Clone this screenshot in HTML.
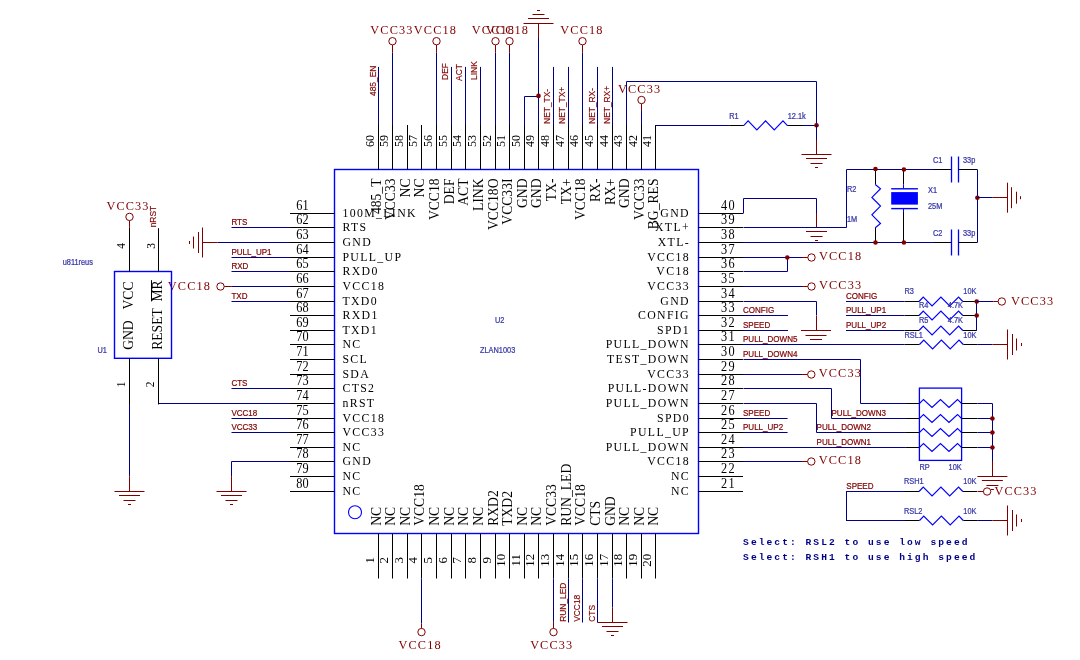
<!DOCTYPE html>
<html><head><meta charset="utf-8"><style>
html,body{margin:0;padding:0;background:#fff;width:1080px;height:660px;overflow:hidden;}
svg{display:block;will-change:transform;}
</style></head><body>
<svg width="1080" height="660" viewBox="0 0 1080 660">
<rect width="1080" height="660" fill="#ffffff"/>
<rect x="334.5" y="169.5" width="364.0" height="364.0" fill="none" stroke="#0000ff" stroke-width="1.4"/>
<circle cx="355" cy="512.3" r="6.5" fill="none" stroke="#0000ff" stroke-width="1.1"/>
<text transform="translate(495,322.8) scale(0.9,1.0)" font-family='"Liberation Sans", sans-serif' font-size="8.2" fill="#3a3aa8" text-anchor="start" stroke="#3a3aa8" stroke-width="0.25">U2</text>
<text transform="translate(480,353) scale(0.9,1.0)" font-family='"Liberation Sans", sans-serif' font-size="8.2" fill="#3a3aa8" text-anchor="start" stroke="#3a3aa8" stroke-width="0.25">ZLAN1003</text>
<line x1="655.5" y1="125" x2="655.5" y2="169.5" stroke="#000000" stroke-width="1.0"/>
<text transform="translate(651,147) rotate(-90) scale(0.905,1.0)" font-family='"Liberation Serif", serif' font-size="13.3" fill="#000000" text-anchor="start">41</text>
<text transform="translate(658.3,178.5) rotate(-90) scale(0.96,1.0)" font-family='"Liberation Serif", serif' font-size="14.2" fill="#000000" text-anchor="end">BG_RES</text>
<line x1="641.5" y1="125" x2="641.5" y2="169.5" stroke="#000000" stroke-width="1.0"/>
<text transform="translate(637,147) rotate(-90) scale(0.905,1.0)" font-family='"Liberation Serif", serif' font-size="13.3" fill="#000000" text-anchor="start">42</text>
<text transform="translate(644.3,178.5) rotate(-90) scale(0.96,1.0)" font-family='"Liberation Serif", serif' font-size="14.2" fill="#000000" text-anchor="end">VCC33</text>
<line x1="626.5" y1="125" x2="626.5" y2="169.5" stroke="#000000" stroke-width="1.0"/>
<text transform="translate(622,147) rotate(-90) scale(0.905,1.0)" font-family='"Liberation Serif", serif' font-size="13.3" fill="#000000" text-anchor="start">43</text>
<text transform="translate(629.3,178.5) rotate(-90) scale(0.96,1.0)" font-family='"Liberation Serif", serif' font-size="14.2" fill="#000000" text-anchor="end">GND</text>
<line x1="612.5" y1="125" x2="612.5" y2="169.5" stroke="#000000" stroke-width="1.0"/>
<text transform="translate(608,147) rotate(-90) scale(0.905,1.0)" font-family='"Liberation Serif", serif' font-size="13.3" fill="#000000" text-anchor="start">44</text>
<text transform="translate(615.3,178.5) rotate(-90) scale(0.96,1.0)" font-family='"Liberation Serif", serif' font-size="14.2" fill="#000000" text-anchor="end">RX+</text>
<line x1="597.5" y1="125" x2="597.5" y2="169.5" stroke="#000000" stroke-width="1.0"/>
<text transform="translate(593,147) rotate(-90) scale(0.905,1.0)" font-family='"Liberation Serif", serif' font-size="13.3" fill="#000000" text-anchor="start">45</text>
<text transform="translate(600.3,178.5) rotate(-90) scale(0.96,1.0)" font-family='"Liberation Serif", serif' font-size="14.2" fill="#000000" text-anchor="end">RX-</text>
<line x1="582.5" y1="125" x2="582.5" y2="169.5" stroke="#000000" stroke-width="1.0"/>
<text transform="translate(578,147) rotate(-90) scale(0.905,1.0)" font-family='"Liberation Serif", serif' font-size="13.3" fill="#000000" text-anchor="start">46</text>
<text transform="translate(585.3,178.5) rotate(-90) scale(0.96,1.0)" font-family='"Liberation Serif", serif' font-size="14.2" fill="#000000" text-anchor="end">VCC18</text>
<line x1="568.5" y1="125" x2="568.5" y2="169.5" stroke="#000000" stroke-width="1.0"/>
<text transform="translate(564,147) rotate(-90) scale(0.905,1.0)" font-family='"Liberation Serif", serif' font-size="13.3" fill="#000000" text-anchor="start">47</text>
<text transform="translate(571.3,178.5) rotate(-90) scale(0.96,1.0)" font-family='"Liberation Serif", serif' font-size="14.2" fill="#000000" text-anchor="end">TX+</text>
<line x1="553.5" y1="125" x2="553.5" y2="169.5" stroke="#000000" stroke-width="1.0"/>
<text transform="translate(549,147) rotate(-90) scale(0.905,1.0)" font-family='"Liberation Serif", serif' font-size="13.3" fill="#000000" text-anchor="start">48</text>
<text transform="translate(556.3,178.5) rotate(-90) scale(0.96,1.0)" font-family='"Liberation Serif", serif' font-size="14.2" fill="#000000" text-anchor="end">TX-</text>
<line x1="538.5" y1="125" x2="538.5" y2="169.5" stroke="#000000" stroke-width="1.0"/>
<text transform="translate(534,147) rotate(-90) scale(0.905,1.0)" font-family='"Liberation Serif", serif' font-size="13.3" fill="#000000" text-anchor="start">49</text>
<text transform="translate(541.3,178.5) rotate(-90) scale(0.96,1.0)" font-family='"Liberation Serif", serif' font-size="14.2" fill="#000000" text-anchor="end">GND</text>
<line x1="524.5" y1="125" x2="524.5" y2="169.5" stroke="#000000" stroke-width="1.0"/>
<text transform="translate(520,147) rotate(-90) scale(0.905,1.0)" font-family='"Liberation Serif", serif' font-size="13.3" fill="#000000" text-anchor="start">50</text>
<text transform="translate(527.3,178.5) rotate(-90) scale(0.96,1.0)" font-family='"Liberation Serif", serif' font-size="14.2" fill="#000000" text-anchor="end">GND</text>
<line x1="509.5" y1="125" x2="509.5" y2="169.5" stroke="#000000" stroke-width="1.0"/>
<text transform="translate(505,147) rotate(-90) scale(0.905,1.0)" font-family='"Liberation Serif", serif' font-size="13.3" fill="#000000" text-anchor="start">51</text>
<text transform="translate(512.3,178.5) rotate(-90) scale(0.96,1.0)" font-family='"Liberation Serif", serif' font-size="14.2" fill="#000000" text-anchor="end">VCC33I</text>
<line x1="495.5" y1="125" x2="495.5" y2="169.5" stroke="#000000" stroke-width="1.0"/>
<text transform="translate(491,147) rotate(-90) scale(0.905,1.0)" font-family='"Liberation Serif", serif' font-size="13.3" fill="#000000" text-anchor="start">52</text>
<text transform="translate(498.3,178.5) rotate(-90) scale(0.96,1.0)" font-family='"Liberation Serif", serif' font-size="14.2" fill="#000000" text-anchor="end">VCC18O</text>
<line x1="480.5" y1="125" x2="480.5" y2="169.5" stroke="#000000" stroke-width="1.0"/>
<text transform="translate(476,147) rotate(-90) scale(0.905,1.0)" font-family='"Liberation Serif", serif' font-size="13.3" fill="#000000" text-anchor="start">53</text>
<text transform="translate(483.3,178.5) rotate(-90) scale(0.96,1.0)" font-family='"Liberation Serif", serif' font-size="14.2" fill="#000000" text-anchor="end">LINK</text>
<line x1="465.5" y1="125" x2="465.5" y2="169.5" stroke="#000000" stroke-width="1.0"/>
<text transform="translate(461,147) rotate(-90) scale(0.905,1.0)" font-family='"Liberation Serif", serif' font-size="13.3" fill="#000000" text-anchor="start">54</text>
<text transform="translate(468.3,178.5) rotate(-90) scale(0.96,1.0)" font-family='"Liberation Serif", serif' font-size="14.2" fill="#000000" text-anchor="end">ACT</text>
<line x1="451.5" y1="125" x2="451.5" y2="169.5" stroke="#000000" stroke-width="1.0"/>
<text transform="translate(447,147) rotate(-90) scale(0.905,1.0)" font-family='"Liberation Serif", serif' font-size="13.3" fill="#000000" text-anchor="start">55</text>
<text transform="translate(454.3,178.5) rotate(-90) scale(0.96,1.0)" font-family='"Liberation Serif", serif' font-size="14.2" fill="#000000" text-anchor="end">DEF</text>
<line x1="436.5" y1="125" x2="436.5" y2="169.5" stroke="#000000" stroke-width="1.0"/>
<text transform="translate(432,147) rotate(-90) scale(0.905,1.0)" font-family='"Liberation Serif", serif' font-size="13.3" fill="#000000" text-anchor="start">56</text>
<text transform="translate(439.3,178.5) rotate(-90) scale(0.96,1.0)" font-family='"Liberation Serif", serif' font-size="14.2" fill="#000000" text-anchor="end">VCC18</text>
<line x1="421.5" y1="125" x2="421.5" y2="169.5" stroke="#000000" stroke-width="1.0"/>
<text transform="translate(417,147) rotate(-90) scale(0.905,1.0)" font-family='"Liberation Serif", serif' font-size="13.3" fill="#000000" text-anchor="start">57</text>
<text transform="translate(424.3,178.5) rotate(-90) scale(0.96,1.0)" font-family='"Liberation Serif", serif' font-size="14.2" fill="#000000" text-anchor="end">NC</text>
<line x1="407.5" y1="125" x2="407.5" y2="169.5" stroke="#000000" stroke-width="1.0"/>
<text transform="translate(403,147) rotate(-90) scale(0.905,1.0)" font-family='"Liberation Serif", serif' font-size="13.3" fill="#000000" text-anchor="start">58</text>
<text transform="translate(410.3,178.5) rotate(-90) scale(0.96,1.0)" font-family='"Liberation Serif", serif' font-size="14.2" fill="#000000" text-anchor="end">NC</text>
<line x1="392.5" y1="125" x2="392.5" y2="169.5" stroke="#000000" stroke-width="1.0"/>
<text transform="translate(388,147) rotate(-90) scale(0.905,1.0)" font-family='"Liberation Serif", serif' font-size="13.3" fill="#000000" text-anchor="start">59</text>
<text transform="translate(395.3,178.5) rotate(-90) scale(0.96,1.0)" font-family='"Liberation Serif", serif' font-size="14.2" fill="#000000" text-anchor="end">VCC33</text>
<line x1="378.5" y1="125" x2="378.5" y2="169.5" stroke="#000000" stroke-width="1.0"/>
<text transform="translate(374,147) rotate(-90) scale(0.905,1.0)" font-family='"Liberation Serif", serif' font-size="13.3" fill="#000000" text-anchor="start">60</text>
<text transform="translate(381.3,178.5) rotate(-90) scale(0.96,1.0)" font-family='"Liberation Serif", serif' font-size="14.2" fill="#000000" text-anchor="end">485_T</text>
<line x1="378.5" y1="533.5" x2="378.5" y2="578.5" stroke="#000000" stroke-width="1.0"/>
<text transform="translate(374.2,560.2) rotate(-90) scale(0.97,1.0)" font-family='"Liberation Serif", serif' font-size="13.3" fill="#000000" text-anchor="middle">1</text>
<text transform="translate(381.3,525.8) rotate(-90) scale(0.96,1.0)" font-family='"Liberation Serif", serif' font-size="14.2" fill="#000000" text-anchor="start">NC</text>
<line x1="392.5" y1="533.5" x2="392.5" y2="578.5" stroke="#000000" stroke-width="1.0"/>
<text transform="translate(388.2,560.2) rotate(-90) scale(0.97,1.0)" font-family='"Liberation Serif", serif' font-size="13.3" fill="#000000" text-anchor="middle">2</text>
<text transform="translate(395.3,525.8) rotate(-90) scale(0.96,1.0)" font-family='"Liberation Serif", serif' font-size="14.2" fill="#000000" text-anchor="start">NC</text>
<line x1="407.5" y1="533.5" x2="407.5" y2="578.5" stroke="#000000" stroke-width="1.0"/>
<text transform="translate(403.2,560.2) rotate(-90) scale(0.97,1.0)" font-family='"Liberation Serif", serif' font-size="13.3" fill="#000000" text-anchor="middle">3</text>
<text transform="translate(410.3,525.8) rotate(-90) scale(0.96,1.0)" font-family='"Liberation Serif", serif' font-size="14.2" fill="#000000" text-anchor="start">NC</text>
<line x1="421.5" y1="533.5" x2="421.5" y2="578.5" stroke="#000000" stroke-width="1.0"/>
<text transform="translate(417.2,560.2) rotate(-90) scale(0.97,1.0)" font-family='"Liberation Serif", serif' font-size="13.3" fill="#000000" text-anchor="middle">4</text>
<text transform="translate(424.3,525.8) rotate(-90) scale(0.96,1.0)" font-family='"Liberation Serif", serif' font-size="14.2" fill="#000000" text-anchor="start">VCC18</text>
<line x1="436.5" y1="533.5" x2="436.5" y2="578.5" stroke="#000000" stroke-width="1.0"/>
<text transform="translate(432.2,560.2) rotate(-90) scale(0.97,1.0)" font-family='"Liberation Serif", serif' font-size="13.3" fill="#000000" text-anchor="middle">5</text>
<text transform="translate(439.3,525.8) rotate(-90) scale(0.96,1.0)" font-family='"Liberation Serif", serif' font-size="14.2" fill="#000000" text-anchor="start">NC</text>
<line x1="451.5" y1="533.5" x2="451.5" y2="578.5" stroke="#000000" stroke-width="1.0"/>
<text transform="translate(447.2,560.2) rotate(-90) scale(0.97,1.0)" font-family='"Liberation Serif", serif' font-size="13.3" fill="#000000" text-anchor="middle">6</text>
<text transform="translate(454.3,525.8) rotate(-90) scale(0.96,1.0)" font-family='"Liberation Serif", serif' font-size="14.2" fill="#000000" text-anchor="start">NC</text>
<line x1="465.5" y1="533.5" x2="465.5" y2="578.5" stroke="#000000" stroke-width="1.0"/>
<text transform="translate(461.2,560.2) rotate(-90) scale(0.97,1.0)" font-family='"Liberation Serif", serif' font-size="13.3" fill="#000000" text-anchor="middle">7</text>
<text transform="translate(468.3,525.8) rotate(-90) scale(0.96,1.0)" font-family='"Liberation Serif", serif' font-size="14.2" fill="#000000" text-anchor="start">NC</text>
<line x1="480.5" y1="533.5" x2="480.5" y2="578.5" stroke="#000000" stroke-width="1.0"/>
<text transform="translate(476.2,560.2) rotate(-90) scale(0.97,1.0)" font-family='"Liberation Serif", serif' font-size="13.3" fill="#000000" text-anchor="middle">8</text>
<text transform="translate(483.3,525.8) rotate(-90) scale(0.96,1.0)" font-family='"Liberation Serif", serif' font-size="14.2" fill="#000000" text-anchor="start">NC</text>
<line x1="495.5" y1="533.5" x2="495.5" y2="578.5" stroke="#000000" stroke-width="1.0"/>
<text transform="translate(491.2,560.2) rotate(-90) scale(0.97,1.0)" font-family='"Liberation Serif", serif' font-size="13.3" fill="#000000" text-anchor="middle">9</text>
<text transform="translate(498.3,525.8) rotate(-90) scale(0.96,1.0)" font-family='"Liberation Serif", serif' font-size="14.2" fill="#000000" text-anchor="start">RXD2</text>
<line x1="509.5" y1="533.5" x2="509.5" y2="578.5" stroke="#000000" stroke-width="1.0"/>
<text transform="translate(505.2,560.2) rotate(-90) scale(0.97,1.0)" font-family='"Liberation Serif", serif' font-size="13.3" fill="#000000" text-anchor="middle">10</text>
<text transform="translate(512.3,525.8) rotate(-90) scale(0.96,1.0)" font-family='"Liberation Serif", serif' font-size="14.2" fill="#000000" text-anchor="start">TXD2</text>
<line x1="524.5" y1="533.5" x2="524.5" y2="578.5" stroke="#000000" stroke-width="1.0"/>
<text transform="translate(520.2,560.2) rotate(-90) scale(0.97,1.0)" font-family='"Liberation Serif", serif' font-size="13.3" fill="#000000" text-anchor="middle">11</text>
<text transform="translate(527.3,525.8) rotate(-90) scale(0.96,1.0)" font-family='"Liberation Serif", serif' font-size="14.2" fill="#000000" text-anchor="start">NC</text>
<line x1="538.5" y1="533.5" x2="538.5" y2="578.5" stroke="#000000" stroke-width="1.0"/>
<text transform="translate(534.2,560.2) rotate(-90) scale(0.97,1.0)" font-family='"Liberation Serif", serif' font-size="13.3" fill="#000000" text-anchor="middle">12</text>
<text transform="translate(541.3,525.8) rotate(-90) scale(0.96,1.0)" font-family='"Liberation Serif", serif' font-size="14.2" fill="#000000" text-anchor="start">NC</text>
<line x1="553.5" y1="533.5" x2="553.5" y2="578.5" stroke="#000000" stroke-width="1.0"/>
<text transform="translate(549.2,560.2) rotate(-90) scale(0.97,1.0)" font-family='"Liberation Serif", serif' font-size="13.3" fill="#000000" text-anchor="middle">13</text>
<text transform="translate(556.3,525.8) rotate(-90) scale(0.96,1.0)" font-family='"Liberation Serif", serif' font-size="14.2" fill="#000000" text-anchor="start">VCC33</text>
<line x1="568.5" y1="533.5" x2="568.5" y2="578.5" stroke="#000000" stroke-width="1.0"/>
<text transform="translate(564.2,560.2) rotate(-90) scale(0.97,1.0)" font-family='"Liberation Serif", serif' font-size="13.3" fill="#000000" text-anchor="middle">14</text>
<text transform="translate(571.3,525.8) rotate(-90) scale(0.96,1.0)" font-family='"Liberation Serif", serif' font-size="14.2" fill="#000000" text-anchor="start">RUN_LED</text>
<line x1="582.5" y1="533.5" x2="582.5" y2="578.5" stroke="#000000" stroke-width="1.0"/>
<text transform="translate(578.2,560.2) rotate(-90) scale(0.97,1.0)" font-family='"Liberation Serif", serif' font-size="13.3" fill="#000000" text-anchor="middle">15</text>
<text transform="translate(585.3,525.8) rotate(-90) scale(0.96,1.0)" font-family='"Liberation Serif", serif' font-size="14.2" fill="#000000" text-anchor="start">VCC18</text>
<line x1="597.5" y1="533.5" x2="597.5" y2="578.5" stroke="#000000" stroke-width="1.0"/>
<text transform="translate(593.2,560.2) rotate(-90) scale(0.97,1.0)" font-family='"Liberation Serif", serif' font-size="13.3" fill="#000000" text-anchor="middle">16</text>
<text transform="translate(600.3,525.8) rotate(-90) scale(0.96,1.0)" font-family='"Liberation Serif", serif' font-size="14.2" fill="#000000" text-anchor="start">CTS</text>
<line x1="612.5" y1="533.5" x2="612.5" y2="578.5" stroke="#000000" stroke-width="1.0"/>
<text transform="translate(608.2,560.2) rotate(-90) scale(0.97,1.0)" font-family='"Liberation Serif", serif' font-size="13.3" fill="#000000" text-anchor="middle">17</text>
<text transform="translate(615.3,525.8) rotate(-90) scale(0.96,1.0)" font-family='"Liberation Serif", serif' font-size="14.2" fill="#000000" text-anchor="start">GND</text>
<line x1="626.5" y1="533.5" x2="626.5" y2="578.5" stroke="#000000" stroke-width="1.0"/>
<text transform="translate(622.2,560.2) rotate(-90) scale(0.97,1.0)" font-family='"Liberation Serif", serif' font-size="13.3" fill="#000000" text-anchor="middle">18</text>
<text transform="translate(629.3,525.8) rotate(-90) scale(0.96,1.0)" font-family='"Liberation Serif", serif' font-size="14.2" fill="#000000" text-anchor="start">NC</text>
<line x1="641.5" y1="533.5" x2="641.5" y2="578.5" stroke="#000000" stroke-width="1.0"/>
<text transform="translate(637.2,560.2) rotate(-90) scale(0.97,1.0)" font-family='"Liberation Serif", serif' font-size="13.3" fill="#000000" text-anchor="middle">19</text>
<text transform="translate(644.3,525.8) rotate(-90) scale(0.96,1.0)" font-family='"Liberation Serif", serif' font-size="14.2" fill="#000000" text-anchor="start">NC</text>
<line x1="655.5" y1="533.5" x2="655.5" y2="578.5" stroke="#000000" stroke-width="1.0"/>
<text transform="translate(651.2,560.2) rotate(-90) scale(0.97,1.0)" font-family='"Liberation Serif", serif' font-size="13.3" fill="#000000" text-anchor="middle">20</text>
<text transform="translate(658.3,525.8) rotate(-90) scale(0.96,1.0)" font-family='"Liberation Serif", serif' font-size="14.2" fill="#000000" text-anchor="start">NC</text>
<line x1="290" y1="213.5" x2="334.5" y2="213.5" stroke="#000000" stroke-width="1.0"/>
<text transform="translate(308.6,209.9) scale(0.88,1.0)" font-family='"Liberation Serif", serif' font-size="14" fill="#000000" text-anchor="end">61</text>
<text transform="translate(342.4,216.9) scale(0.888,1.0)" font-family='"Liberation Serif", serif' font-size="13.3" fill="#000000" text-anchor="start" letter-spacing="1.53">100M_LINK</text>
<line x1="290" y1="227.5" x2="334.5" y2="227.5" stroke="#000000" stroke-width="1.0"/>
<text transform="translate(308.6,223.9) scale(0.88,1.0)" font-family='"Liberation Serif", serif' font-size="14" fill="#000000" text-anchor="end">62</text>
<text transform="translate(342.4,230.9) scale(0.888,1.0)" font-family='"Liberation Serif", serif' font-size="13.3" fill="#000000" text-anchor="start" letter-spacing="1.53">RTS</text>
<line x1="290" y1="242.5" x2="334.5" y2="242.5" stroke="#000000" stroke-width="1.0"/>
<text transform="translate(308.6,238.9) scale(0.88,1.0)" font-family='"Liberation Serif", serif' font-size="14" fill="#000000" text-anchor="end">63</text>
<text transform="translate(342.4,245.9) scale(0.888,1.0)" font-family='"Liberation Serif", serif' font-size="13.3" fill="#000000" text-anchor="start" letter-spacing="1.53">GND</text>
<line x1="290" y1="257.5" x2="334.5" y2="257.5" stroke="#000000" stroke-width="1.0"/>
<text transform="translate(308.6,253.9) scale(0.88,1.0)" font-family='"Liberation Serif", serif' font-size="14" fill="#000000" text-anchor="end">64</text>
<text transform="translate(342.4,260.9) scale(0.888,1.0)" font-family='"Liberation Serif", serif' font-size="13.3" fill="#000000" text-anchor="start" letter-spacing="1.53">PULL_UP</text>
<line x1="290" y1="271.5" x2="334.5" y2="271.5" stroke="#000000" stroke-width="1.0"/>
<text transform="translate(308.6,267.9) scale(0.88,1.0)" font-family='"Liberation Serif", serif' font-size="14" fill="#000000" text-anchor="end">65</text>
<text transform="translate(342.4,274.9) scale(0.888,1.0)" font-family='"Liberation Serif", serif' font-size="13.3" fill="#000000" text-anchor="start" letter-spacing="1.53">RXD0</text>
<line x1="290" y1="286.5" x2="334.5" y2="286.5" stroke="#000000" stroke-width="1.0"/>
<text transform="translate(308.6,282.9) scale(0.88,1.0)" font-family='"Liberation Serif", serif' font-size="14" fill="#000000" text-anchor="end">66</text>
<text transform="translate(342.4,289.9) scale(0.888,1.0)" font-family='"Liberation Serif", serif' font-size="13.3" fill="#000000" text-anchor="start" letter-spacing="1.53">VCC18</text>
<line x1="290" y1="301.5" x2="334.5" y2="301.5" stroke="#000000" stroke-width="1.0"/>
<text transform="translate(308.6,297.9) scale(0.88,1.0)" font-family='"Liberation Serif", serif' font-size="14" fill="#000000" text-anchor="end">67</text>
<text transform="translate(342.4,304.9) scale(0.888,1.0)" font-family='"Liberation Serif", serif' font-size="13.3" fill="#000000" text-anchor="start" letter-spacing="1.53">TXD0</text>
<line x1="290" y1="315.5" x2="334.5" y2="315.5" stroke="#000000" stroke-width="1.0"/>
<text transform="translate(308.6,311.9) scale(0.88,1.0)" font-family='"Liberation Serif", serif' font-size="14" fill="#000000" text-anchor="end">68</text>
<text transform="translate(342.4,318.9) scale(0.888,1.0)" font-family='"Liberation Serif", serif' font-size="13.3" fill="#000000" text-anchor="start" letter-spacing="1.53">RXD1</text>
<line x1="290" y1="330.5" x2="334.5" y2="330.5" stroke="#000000" stroke-width="1.0"/>
<text transform="translate(308.6,326.9) scale(0.88,1.0)" font-family='"Liberation Serif", serif' font-size="14" fill="#000000" text-anchor="end">69</text>
<text transform="translate(342.4,333.9) scale(0.888,1.0)" font-family='"Liberation Serif", serif' font-size="13.3" fill="#000000" text-anchor="start" letter-spacing="1.53">TXD1</text>
<line x1="290" y1="344.5" x2="334.5" y2="344.5" stroke="#000000" stroke-width="1.0"/>
<text transform="translate(308.6,340.9) scale(0.88,1.0)" font-family='"Liberation Serif", serif' font-size="14" fill="#000000" text-anchor="end">70</text>
<text transform="translate(342.4,347.9) scale(0.888,1.0)" font-family='"Liberation Serif", serif' font-size="13.3" fill="#000000" text-anchor="start" letter-spacing="1.53">NC</text>
<line x1="290" y1="359.5" x2="334.5" y2="359.5" stroke="#000000" stroke-width="1.0"/>
<text transform="translate(308.6,355.9) scale(0.88,1.0)" font-family='"Liberation Serif", serif' font-size="14" fill="#000000" text-anchor="end">71</text>
<text transform="translate(342.4,362.9) scale(0.888,1.0)" font-family='"Liberation Serif", serif' font-size="13.3" fill="#000000" text-anchor="start" letter-spacing="1.53">SCL</text>
<line x1="290" y1="374.5" x2="334.5" y2="374.5" stroke="#000000" stroke-width="1.0"/>
<text transform="translate(308.6,370.9) scale(0.88,1.0)" font-family='"Liberation Serif", serif' font-size="14" fill="#000000" text-anchor="end">72</text>
<text transform="translate(342.4,377.9) scale(0.888,1.0)" font-family='"Liberation Serif", serif' font-size="13.3" fill="#000000" text-anchor="start" letter-spacing="1.53">SDA</text>
<line x1="290" y1="388.5" x2="334.5" y2="388.5" stroke="#000000" stroke-width="1.0"/>
<text transform="translate(308.6,384.9) scale(0.88,1.0)" font-family='"Liberation Serif", serif' font-size="14" fill="#000000" text-anchor="end">73</text>
<text transform="translate(342.4,391.9) scale(0.888,1.0)" font-family='"Liberation Serif", serif' font-size="13.3" fill="#000000" text-anchor="start" letter-spacing="1.53">CTS2</text>
<line x1="290" y1="403.5" x2="334.5" y2="403.5" stroke="#000000" stroke-width="1.0"/>
<text transform="translate(308.6,399.9) scale(0.88,1.0)" font-family='"Liberation Serif", serif' font-size="14" fill="#000000" text-anchor="end">74</text>
<text transform="translate(342.4,406.9) scale(0.888,1.0)" font-family='"Liberation Serif", serif' font-size="13.3" fill="#000000" text-anchor="start" letter-spacing="1.53">nRST</text>
<line x1="290" y1="418.5" x2="334.5" y2="418.5" stroke="#000000" stroke-width="1.0"/>
<text transform="translate(308.6,414.9) scale(0.88,1.0)" font-family='"Liberation Serif", serif' font-size="14" fill="#000000" text-anchor="end">75</text>
<text transform="translate(342.4,421.9) scale(0.888,1.0)" font-family='"Liberation Serif", serif' font-size="13.3" fill="#000000" text-anchor="start" letter-spacing="1.53">VCC18</text>
<line x1="290" y1="432.5" x2="334.5" y2="432.5" stroke="#000000" stroke-width="1.0"/>
<text transform="translate(308.6,428.9) scale(0.88,1.0)" font-family='"Liberation Serif", serif' font-size="14" fill="#000000" text-anchor="end">76</text>
<text transform="translate(342.4,435.9) scale(0.888,1.0)" font-family='"Liberation Serif", serif' font-size="13.3" fill="#000000" text-anchor="start" letter-spacing="1.53">VCC33</text>
<line x1="290" y1="447.5" x2="334.5" y2="447.5" stroke="#000000" stroke-width="1.0"/>
<text transform="translate(308.6,443.9) scale(0.88,1.0)" font-family='"Liberation Serif", serif' font-size="14" fill="#000000" text-anchor="end">77</text>
<text transform="translate(342.4,450.9) scale(0.888,1.0)" font-family='"Liberation Serif", serif' font-size="13.3" fill="#000000" text-anchor="start" letter-spacing="1.53">NC</text>
<line x1="290" y1="461.5" x2="334.5" y2="461.5" stroke="#000000" stroke-width="1.0"/>
<text transform="translate(308.6,457.9) scale(0.88,1.0)" font-family='"Liberation Serif", serif' font-size="14" fill="#000000" text-anchor="end">78</text>
<text transform="translate(342.4,464.9) scale(0.888,1.0)" font-family='"Liberation Serif", serif' font-size="13.3" fill="#000000" text-anchor="start" letter-spacing="1.53">GND</text>
<line x1="290" y1="476.5" x2="334.5" y2="476.5" stroke="#000000" stroke-width="1.0"/>
<text transform="translate(308.6,472.9) scale(0.88,1.0)" font-family='"Liberation Serif", serif' font-size="14" fill="#000000" text-anchor="end">79</text>
<text transform="translate(342.4,479.9) scale(0.888,1.0)" font-family='"Liberation Serif", serif' font-size="13.3" fill="#000000" text-anchor="start" letter-spacing="1.53">NC</text>
<line x1="290" y1="491.5" x2="334.5" y2="491.5" stroke="#000000" stroke-width="1.0"/>
<text transform="translate(308.6,487.9) scale(0.88,1.0)" font-family='"Liberation Serif", serif' font-size="14" fill="#000000" text-anchor="end">80</text>
<text transform="translate(342.4,494.9) scale(0.888,1.0)" font-family='"Liberation Serif", serif' font-size="13.3" fill="#000000" text-anchor="start" letter-spacing="1.53">NC</text>
<line x1="698.5" y1="491.5" x2="743" y2="491.5" stroke="#000000" stroke-width="1.0"/>
<text transform="translate(721,488) scale(0.88,1.0)" font-family='"Liberation Serif", serif' font-size="14" fill="#000000" text-anchor="start" letter-spacing="1.6">21</text>
<text transform="translate(690,494.9) scale(0.888,1.0)" font-family='"Liberation Serif", serif' font-size="13.3" fill="#000000" text-anchor="end" letter-spacing="1.53">NC</text>
<line x1="698.5" y1="476.5" x2="743" y2="476.5" stroke="#000000" stroke-width="1.0"/>
<text transform="translate(721,473) scale(0.88,1.0)" font-family='"Liberation Serif", serif' font-size="14" fill="#000000" text-anchor="start" letter-spacing="1.6">22</text>
<text transform="translate(690,479.9) scale(0.888,1.0)" font-family='"Liberation Serif", serif' font-size="13.3" fill="#000000" text-anchor="end" letter-spacing="1.53">NC</text>
<line x1="698.5" y1="461.5" x2="743" y2="461.5" stroke="#000000" stroke-width="1.0"/>
<text transform="translate(721,458) scale(0.88,1.0)" font-family='"Liberation Serif", serif' font-size="14" fill="#000000" text-anchor="start" letter-spacing="1.6">23</text>
<text transform="translate(690,464.9) scale(0.888,1.0)" font-family='"Liberation Serif", serif' font-size="13.3" fill="#000000" text-anchor="end" letter-spacing="1.53">VCC18</text>
<line x1="698.5" y1="447.5" x2="743" y2="447.5" stroke="#000000" stroke-width="1.0"/>
<text transform="translate(721,444) scale(0.88,1.0)" font-family='"Liberation Serif", serif' font-size="14" fill="#000000" text-anchor="start" letter-spacing="1.6">24</text>
<text transform="translate(690,450.9) scale(0.888,1.0)" font-family='"Liberation Serif", serif' font-size="13.3" fill="#000000" text-anchor="end" letter-spacing="1.53">PULL_DOWN</text>
<line x1="698.5" y1="432.5" x2="743" y2="432.5" stroke="#000000" stroke-width="1.0"/>
<text transform="translate(721,429) scale(0.88,1.0)" font-family='"Liberation Serif", serif' font-size="14" fill="#000000" text-anchor="start" letter-spacing="1.6">25</text>
<text transform="translate(690,435.9) scale(0.888,1.0)" font-family='"Liberation Serif", serif' font-size="13.3" fill="#000000" text-anchor="end" letter-spacing="1.53">PULL_UP</text>
<line x1="698.5" y1="418.5" x2="743" y2="418.5" stroke="#000000" stroke-width="1.0"/>
<text transform="translate(721,415) scale(0.88,1.0)" font-family='"Liberation Serif", serif' font-size="14" fill="#000000" text-anchor="start" letter-spacing="1.6">26</text>
<text transform="translate(690,421.9) scale(0.888,1.0)" font-family='"Liberation Serif", serif' font-size="13.3" fill="#000000" text-anchor="end" letter-spacing="1.53">SPD0</text>
<line x1="698.5" y1="403.5" x2="743" y2="403.5" stroke="#000000" stroke-width="1.0"/>
<text transform="translate(721,400) scale(0.88,1.0)" font-family='"Liberation Serif", serif' font-size="14" fill="#000000" text-anchor="start" letter-spacing="1.6">27</text>
<text transform="translate(690,406.9) scale(0.888,1.0)" font-family='"Liberation Serif", serif' font-size="13.3" fill="#000000" text-anchor="end" letter-spacing="1.53">PULL_DOWN</text>
<line x1="698.5" y1="388.5" x2="743" y2="388.5" stroke="#000000" stroke-width="1.0"/>
<text transform="translate(721,385) scale(0.88,1.0)" font-family='"Liberation Serif", serif' font-size="14" fill="#000000" text-anchor="start" letter-spacing="1.6">28</text>
<text transform="translate(690,391.9) scale(0.888,1.0)" font-family='"Liberation Serif", serif' font-size="13.3" fill="#000000" text-anchor="end" letter-spacing="1.53">PULL-DOWN</text>
<line x1="698.5" y1="374.5" x2="743" y2="374.5" stroke="#000000" stroke-width="1.0"/>
<text transform="translate(721,371) scale(0.88,1.0)" font-family='"Liberation Serif", serif' font-size="14" fill="#000000" text-anchor="start" letter-spacing="1.6">29</text>
<text transform="translate(690,377.9) scale(0.888,1.0)" font-family='"Liberation Serif", serif' font-size="13.3" fill="#000000" text-anchor="end" letter-spacing="1.53">VCC33</text>
<line x1="698.5" y1="359.5" x2="743" y2="359.5" stroke="#000000" stroke-width="1.0"/>
<text transform="translate(721,356) scale(0.88,1.0)" font-family='"Liberation Serif", serif' font-size="14" fill="#000000" text-anchor="start" letter-spacing="1.6">30</text>
<text transform="translate(690,362.9) scale(0.888,1.0)" font-family='"Liberation Serif", serif' font-size="13.3" fill="#000000" text-anchor="end" letter-spacing="1.53">TEST_DOWN</text>
<line x1="698.5" y1="344.5" x2="743" y2="344.5" stroke="#000000" stroke-width="1.0"/>
<text transform="translate(721,341) scale(0.88,1.0)" font-family='"Liberation Serif", serif' font-size="14" fill="#000000" text-anchor="start" letter-spacing="1.6">31</text>
<text transform="translate(690,347.9) scale(0.888,1.0)" font-family='"Liberation Serif", serif' font-size="13.3" fill="#000000" text-anchor="end" letter-spacing="1.53">PULL_DOWN</text>
<line x1="698.5" y1="330.5" x2="743" y2="330.5" stroke="#000000" stroke-width="1.0"/>
<text transform="translate(721,327) scale(0.88,1.0)" font-family='"Liberation Serif", serif' font-size="14" fill="#000000" text-anchor="start" letter-spacing="1.6">32</text>
<text transform="translate(690,333.9) scale(0.888,1.0)" font-family='"Liberation Serif", serif' font-size="13.3" fill="#000000" text-anchor="end" letter-spacing="1.53">SPD1</text>
<line x1="698.5" y1="315.5" x2="743" y2="315.5" stroke="#000000" stroke-width="1.0"/>
<text transform="translate(721,312) scale(0.88,1.0)" font-family='"Liberation Serif", serif' font-size="14" fill="#000000" text-anchor="start" letter-spacing="1.6">33</text>
<text transform="translate(690,318.9) scale(0.888,1.0)" font-family='"Liberation Serif", serif' font-size="13.3" fill="#000000" text-anchor="end" letter-spacing="1.53">CONFIG</text>
<line x1="698.5" y1="301.5" x2="743" y2="301.5" stroke="#000000" stroke-width="1.0"/>
<text transform="translate(721,298) scale(0.88,1.0)" font-family='"Liberation Serif", serif' font-size="14" fill="#000000" text-anchor="start" letter-spacing="1.6">34</text>
<text transform="translate(690,304.9) scale(0.888,1.0)" font-family='"Liberation Serif", serif' font-size="13.3" fill="#000000" text-anchor="end" letter-spacing="1.53">GND</text>
<line x1="698.5" y1="286.5" x2="743" y2="286.5" stroke="#000000" stroke-width="1.0"/>
<text transform="translate(721,283) scale(0.88,1.0)" font-family='"Liberation Serif", serif' font-size="14" fill="#000000" text-anchor="start" letter-spacing="1.6">35</text>
<text transform="translate(690,289.9) scale(0.888,1.0)" font-family='"Liberation Serif", serif' font-size="13.3" fill="#000000" text-anchor="end" letter-spacing="1.53">VCC33</text>
<line x1="698.5" y1="271.5" x2="743" y2="271.5" stroke="#000000" stroke-width="1.0"/>
<text transform="translate(721,268) scale(0.88,1.0)" font-family='"Liberation Serif", serif' font-size="14" fill="#000000" text-anchor="start" letter-spacing="1.6">36</text>
<text transform="translate(690,274.9) scale(0.888,1.0)" font-family='"Liberation Serif", serif' font-size="13.3" fill="#000000" text-anchor="end" letter-spacing="1.53">VC18</text>
<line x1="698.5" y1="257.5" x2="743" y2="257.5" stroke="#000000" stroke-width="1.0"/>
<text transform="translate(721,254) scale(0.88,1.0)" font-family='"Liberation Serif", serif' font-size="14" fill="#000000" text-anchor="start" letter-spacing="1.6">37</text>
<text transform="translate(690,260.9) scale(0.888,1.0)" font-family='"Liberation Serif", serif' font-size="13.3" fill="#000000" text-anchor="end" letter-spacing="1.53">VCC18</text>
<line x1="698.5" y1="242.5" x2="743" y2="242.5" stroke="#000000" stroke-width="1.0"/>
<text transform="translate(721,239) scale(0.88,1.0)" font-family='"Liberation Serif", serif' font-size="14" fill="#000000" text-anchor="start" letter-spacing="1.6">38</text>
<text transform="translate(690,245.9) scale(0.888,1.0)" font-family='"Liberation Serif", serif' font-size="13.3" fill="#000000" text-anchor="end" letter-spacing="1.53">XTL-</text>
<line x1="698.5" y1="227.5" x2="743" y2="227.5" stroke="#000000" stroke-width="1.0"/>
<text transform="translate(721,224) scale(0.88,1.0)" font-family='"Liberation Serif", serif' font-size="14" fill="#000000" text-anchor="start" letter-spacing="1.6">39</text>
<text transform="translate(690,230.9) scale(0.888,1.0)" font-family='"Liberation Serif", serif' font-size="13.3" fill="#000000" text-anchor="end" letter-spacing="1.53">XTL+</text>
<line x1="698.5" y1="213.5" x2="743" y2="213.5" stroke="#000000" stroke-width="1.0"/>
<text transform="translate(721,210) scale(0.88,1.0)" font-family='"Liberation Serif", serif' font-size="14" fill="#000000" text-anchor="start" letter-spacing="1.6">40</text>
<text transform="translate(690,216.9) scale(0.888,1.0)" font-family='"Liberation Serif", serif' font-size="13.3" fill="#000000" text-anchor="end" letter-spacing="1.53">GND</text>
<line x1="378.5" y1="66.9" x2="378.5" y2="125" stroke="#000088" stroke-width="1.0"/>
<line x1="451.5" y1="66.9" x2="451.5" y2="125" stroke="#000088" stroke-width="1.0"/>
<line x1="465.5" y1="66.9" x2="465.5" y2="125" stroke="#000088" stroke-width="1.0"/>
<line x1="480.5" y1="66.9" x2="480.5" y2="125" stroke="#000088" stroke-width="1.0"/>
<line x1="553.5" y1="66.9" x2="553.5" y2="125" stroke="#000088" stroke-width="1.0"/>
<line x1="568.5" y1="66.9" x2="568.5" y2="125" stroke="#000088" stroke-width="1.0"/>
<line x1="597.5" y1="66.9" x2="597.5" y2="125" stroke="#000088" stroke-width="1.0"/>
<line x1="612.5" y1="66.9" x2="612.5" y2="125" stroke="#000088" stroke-width="1.0"/>
<text transform="translate(375.7,96) rotate(-90) scale(1.0,1.15)" font-family='"Liberation Sans", sans-serif' font-size="8.4" fill="#800000" text-anchor="start" stroke="#800000" stroke-width="0.14">485_EN</text>
<text transform="translate(448.3,79.9) rotate(-90) scale(1.0,1.15)" font-family='"Liberation Sans", sans-serif' font-size="8.4" fill="#800000" text-anchor="start" stroke="#800000" stroke-width="0.14">DEF</text>
<text transform="translate(462.3,80.9) rotate(-90) scale(1.0,1.15)" font-family='"Liberation Sans", sans-serif' font-size="8.4" fill="#800000" text-anchor="start" stroke="#800000" stroke-width="0.14">ACT</text>
<text transform="translate(477.3,79.9) rotate(-90) scale(1.0,1.15)" font-family='"Liberation Sans", sans-serif' font-size="8.4" fill="#800000" text-anchor="start" stroke="#800000" stroke-width="0.14">LINK</text>
<text transform="translate(550.4,123.9) rotate(-90) scale(1.0,1.15)" font-family='"Liberation Sans", sans-serif' font-size="8.4" fill="#800000" text-anchor="start" stroke="#800000" stroke-width="0.14">NET_TX-</text>
<text transform="translate(565.2,123.9) rotate(-90) scale(1.0,1.15)" font-family='"Liberation Sans", sans-serif' font-size="8.4" fill="#800000" text-anchor="start" stroke="#800000" stroke-width="0.14">NET_TX+</text>
<text transform="translate(594.9,123.9) rotate(-90) scale(1.0,1.15)" font-family='"Liberation Sans", sans-serif' font-size="8.4" fill="#800000" text-anchor="start" stroke="#800000" stroke-width="0.14">NET_RX-</text>
<text transform="translate(609.9,123.9) rotate(-90) scale(1.0,1.15)" font-family='"Liberation Sans", sans-serif' font-size="8.4" fill="#800000" text-anchor="start" stroke="#800000" stroke-width="0.14">NET_RX+</text>
<line x1="392.5" y1="52.7" x2="392.5" y2="125" stroke="#000088" stroke-width="1.0"/>
<circle cx="392.5" cy="41.2" r="3.7" fill="none" stroke="#800000" stroke-width="1.0"/>
<line x1="392.5" y1="44.9" x2="392.5" y2="52.7" stroke="#800000" stroke-width="1.0"/>
<text transform="translate(391.9,33.5) scale(0.92,1.0)" font-family='"Liberation Serif", serif' font-size="13.4" fill="#800000" text-anchor="middle" letter-spacing="1.2">VCC33</text>
<line x1="436.5" y1="52.7" x2="436.5" y2="125" stroke="#000088" stroke-width="1.0"/>
<circle cx="436.5" cy="41.2" r="3.7" fill="none" stroke="#800000" stroke-width="1.0"/>
<line x1="436.5" y1="44.9" x2="436.5" y2="52.7" stroke="#800000" stroke-width="1.0"/>
<text transform="translate(435.4,33.5) scale(0.92,1.0)" font-family='"Liberation Serif", serif' font-size="13.4" fill="#800000" text-anchor="middle" letter-spacing="1.2">VCC18</text>
<line x1="495.5" y1="52.7" x2="495.5" y2="125" stroke="#000088" stroke-width="1.0"/>
<circle cx="495.5" cy="41.2" r="3.7" fill="none" stroke="#800000" stroke-width="1.0"/>
<line x1="495.5" y1="44.9" x2="495.5" y2="52.7" stroke="#800000" stroke-width="1.0"/>
<text transform="translate(493.4,33.5) scale(0.92,1.0)" font-family='"Liberation Serif", serif' font-size="13.4" fill="#800000" text-anchor="middle" letter-spacing="1.2">VCC18</text>
<line x1="509.5" y1="52.7" x2="509.5" y2="125" stroke="#000088" stroke-width="1.0"/>
<circle cx="509.5" cy="41.2" r="3.7" fill="none" stroke="#800000" stroke-width="1.0"/>
<line x1="509.5" y1="44.9" x2="509.5" y2="52.7" stroke="#800000" stroke-width="1.0"/>
<text transform="translate(507.4,33.5) scale(0.92,1.0)" font-family='"Liberation Serif", serif' font-size="13.4" fill="#800000" text-anchor="middle" letter-spacing="1.2">VCC18</text>
<line x1="582.5" y1="52.7" x2="582.5" y2="125" stroke="#000088" stroke-width="1.0"/>
<circle cx="582.5" cy="41.2" r="3.7" fill="none" stroke="#800000" stroke-width="1.0"/>
<line x1="582.5" y1="44.9" x2="582.5" y2="52.7" stroke="#800000" stroke-width="1.0"/>
<text transform="translate(581.9,33.5) scale(0.92,1.0)" font-family='"Liberation Serif", serif' font-size="13.4" fill="#800000" text-anchor="middle" letter-spacing="1.2">VCC18</text>
<line x1="538.5" y1="38" x2="538.5" y2="125" stroke="#000088" stroke-width="1.0"/>
<line x1="538.5" y1="23.3" x2="538.5" y2="38" stroke="#800000" stroke-width="1.0"/>
<line x1="523.5" y1="23.5" x2="553.5" y2="23.5" stroke="#800000" stroke-width="1.0"/>
<line x1="528" y1="18.5" x2="549" y2="18.5" stroke="#800000" stroke-width="1.0"/>
<line x1="532.5" y1="14.5" x2="544.5" y2="14.5" stroke="#800000" stroke-width="1.0"/>
<line x1="537" y1="10.5" x2="540" y2="10.5" stroke="#800000" stroke-width="1.0"/>
<polyline points="524.5,125.5 524.5,96.5 538.5,96.5" fill="none" stroke="#000088" stroke-width="1.0" stroke-linejoin="miter"/>
<circle cx="538.5" cy="95.9" r="2.3" fill="#800000"/>
<polyline points="626.5,125.5 626.5,81.5 816.5,81.5 816.5,154.5" fill="none" stroke="#000088" stroke-width="1.0" stroke-linejoin="miter"/>
<circle cx="641.5" cy="100" r="3.7" fill="none" stroke="#800000" stroke-width="1.0"/>
<line x1="641.5" y1="103.7" x2="641.5" y2="111" stroke="#800000" stroke-width="1.0"/>
<line x1="641.5" y1="111" x2="641.5" y2="125" stroke="#000088" stroke-width="1.0"/>
<text transform="translate(639.6,92.6) scale(0.92,1.0)" font-family='"Liberation Serif", serif' font-size="13.4" fill="#800000" text-anchor="middle" letter-spacing="1.2">VCC33</text>
<line x1="655.5" y1="125.5" x2="729.2" y2="125.5" stroke="#000088" stroke-width="1.0"/>
<line x1="729.2" y1="125.5" x2="743.9" y2="125.5" stroke="#000000" stroke-width="1.0"/>
<polyline points="743.9,125.4 748.11,120.94 756.83,129.86 765.55,120.94 774.27,129.86 782.99,120.94 787.2,125.4" fill="none" stroke="#0000ff" stroke-width="1.15" stroke-linejoin="miter"/>
<line x1="787.2" y1="125.5" x2="803" y2="125.5" stroke="#000000" stroke-width="1.0"/>
<line x1="803" y1="125.5" x2="816.5" y2="125.5" stroke="#000088" stroke-width="1.0"/>
<circle cx="816.5" cy="125.2" r="2.3" fill="#800000"/>
<line x1="816.5" y1="125.4" x2="816.5" y2="140" stroke="#000088" stroke-width="1.0"/>
<line x1="816.5" y1="140.2" x2="816.5" y2="154.2" stroke="#800000" stroke-width="1.0"/>
<line x1="801.5" y1="154.5" x2="831.5" y2="154.5" stroke="#800000" stroke-width="1.0"/>
<line x1="806" y1="158.5" x2="827" y2="158.5" stroke="#800000" stroke-width="1.0"/>
<line x1="810.5" y1="163.5" x2="822.5" y2="163.5" stroke="#800000" stroke-width="1.0"/>
<line x1="815" y1="167.5" x2="818" y2="167.5" stroke="#800000" stroke-width="1.0"/>
<text transform="translate(729.2,118.8) scale(0.9,1.0)" font-family='"Liberation Sans", sans-serif' font-size="8.2" fill="#3a3aa8" text-anchor="start" stroke="#3a3aa8" stroke-width="0.25">R1</text>
<text transform="translate(787.7,118.8) scale(0.9,1.0)" font-family='"Liberation Sans", sans-serif' font-size="8.2" fill="#3a3aa8" text-anchor="start" stroke="#3a3aa8" stroke-width="0.25">12.1k</text>
<polyline points="743.5,213.5 743.5,198.5 816.5,198.5 816.5,213.5" fill="none" stroke="#000088" stroke-width="1.0" stroke-linejoin="miter"/>
<line x1="816.5" y1="213" x2="816.5" y2="227.5" stroke="#800000" stroke-width="1.0"/>
<line x1="806" y1="231.5" x2="827" y2="231.5" stroke="#800000" stroke-width="1.0"/>
<line x1="810.5" y1="236.5" x2="822.5" y2="236.5" stroke="#800000" stroke-width="1.0"/>
<line x1="815" y1="240.5" x2="818" y2="240.5" stroke="#800000" stroke-width="1.0"/>
<polyline points="743.5,227.5 846.5,227.5 846.5,169.5 934.5,169.5" fill="none" stroke="#000088" stroke-width="1.0" stroke-linejoin="miter"/>
<text transform="translate(847,191.6) scale(0.9,1.0)" font-family='"Liberation Sans", sans-serif' font-size="8.2" fill="#3a3aa8" text-anchor="start" stroke="#3a3aa8" stroke-width="0.25">R2</text>
<text transform="translate(847,221.5) scale(0.9,1.0)" font-family='"Liberation Sans", sans-serif' font-size="8.2" fill="#3a3aa8" text-anchor="start" stroke="#3a3aa8" stroke-width="0.25">1M</text>
<line x1="743" y1="242.5" x2="934" y2="242.5" stroke="#000088" stroke-width="1.0"/>
<line x1="875.5" y1="169.5" x2="875.5" y2="184.5" stroke="#000000" stroke-width="1.0"/>
<polyline points="875.3,184.5 880.5,188.7 871.9,197.4 880.5,206.1 871.9,214.8 880.5,223.5 875.3,227.7" fill="none" stroke="#0000ff" stroke-width="1.15" stroke-linejoin="miter"/>
<line x1="875.5" y1="227.7" x2="875.5" y2="242.5" stroke="#000000" stroke-width="1.0"/>
<circle cx="875.5" cy="169" r="2.3" fill="#800000"/>
<circle cx="875.5" cy="242.5" r="2.3" fill="#800000"/>
<line x1="903.5" y1="169.5" x2="903.5" y2="184.3" stroke="#000000" stroke-width="1.0"/>
<line x1="903.5" y1="184.3" x2="903.5" y2="188.5" stroke="#0000ff" stroke-width="1.0"/>
<line x1="891.2" y1="188.8" x2="917.9" y2="188.8" stroke="#0000ff" stroke-width="1.4"/>
<rect x="891.2" y="192.1" width="26.7" height="12.5" fill="#0000ff"/>
<line x1="891.2" y1="208.6" x2="917.9" y2="208.6" stroke="#0000ff" stroke-width="1.4"/>
<line x1="903.5" y1="208.6" x2="903.5" y2="212" stroke="#0000ff" stroke-width="1.0"/>
<line x1="903.5" y1="212" x2="903.5" y2="242.5" stroke="#000000" stroke-width="1.0"/>
<circle cx="903.9" cy="169.5" r="2.3" fill="#800000"/>
<circle cx="903.9" cy="242.5" r="2.3" fill="#800000"/>
<text transform="translate(928,192.5) scale(0.9,1.0)" font-family='"Liberation Sans", sans-serif' font-size="8.2" fill="#3a3aa8" text-anchor="start" stroke="#3a3aa8" stroke-width="0.25">X1</text>
<text transform="translate(928,209.3) scale(0.9,1.0)" font-family='"Liberation Sans", sans-serif' font-size="8.2" fill="#3a3aa8" text-anchor="start" stroke="#3a3aa8" stroke-width="0.25">25M</text>
<line x1="934" y1="169.5" x2="951.5" y2="169.5" stroke="#000000" stroke-width="1.0"/>
<line x1="951.5" y1="156.5" x2="951.5" y2="182.5" stroke="#0000ff" stroke-width="1.3"/>
<line x1="958.5" y1="156.5" x2="958.5" y2="182.5" stroke="#0000ff" stroke-width="1.3"/>
<line x1="958.3" y1="169.5" x2="977.4" y2="169.5" stroke="#000000" stroke-width="1.0"/>
<text transform="translate(933,163.3) scale(0.9,1.0)" font-family='"Liberation Sans", sans-serif' font-size="8.2" fill="#3a3aa8" text-anchor="start" stroke="#3a3aa8" stroke-width="0.25">C1</text>
<text transform="translate(963,163.3) scale(0.9,1.0)" font-family='"Liberation Sans", sans-serif' font-size="8.2" fill="#3a3aa8" text-anchor="start" stroke="#3a3aa8" stroke-width="0.25">33p</text>
<line x1="934" y1="242.5" x2="951.5" y2="242.5" stroke="#000000" stroke-width="1.0"/>
<line x1="951.5" y1="229.5" x2="951.5" y2="255.5" stroke="#0000ff" stroke-width="1.3"/>
<line x1="958.5" y1="229.5" x2="958.5" y2="255.5" stroke="#0000ff" stroke-width="1.3"/>
<line x1="958.3" y1="242.5" x2="977.4" y2="242.5" stroke="#000000" stroke-width="1.0"/>
<text transform="translate(933,236.3) scale(0.9,1.0)" font-family='"Liberation Sans", sans-serif' font-size="8.2" fill="#3a3aa8" text-anchor="start" stroke="#3a3aa8" stroke-width="0.25">C2</text>
<text transform="translate(963,236.3) scale(0.9,1.0)" font-family='"Liberation Sans", sans-serif' font-size="8.2" fill="#3a3aa8" text-anchor="start" stroke="#3a3aa8" stroke-width="0.25">33p</text>
<line x1="977.5" y1="169.5" x2="977.5" y2="242.5" stroke="#000088" stroke-width="1.0"/>
<circle cx="977.4" cy="197.7" r="2.3" fill="#800000"/>
<line x1="977.4" y1="197.5" x2="992.4" y2="197.5" stroke="#000088" stroke-width="1.0"/>
<line x1="992.3" y1="197.5" x2="1007.3" y2="197.5" stroke="#800000" stroke-width="1.0"/>
<line x1="1007.5" y1="182.7" x2="1007.5" y2="212.7" stroke="#800000" stroke-width="1.0"/>
<line x1="1011.5" y1="187.2" x2="1011.5" y2="208.2" stroke="#800000" stroke-width="1.0"/>
<line x1="1016.5" y1="191.7" x2="1016.5" y2="203.7" stroke="#800000" stroke-width="1.0"/>
<line x1="1020.5" y1="196.2" x2="1020.5" y2="199.2" stroke="#800000" stroke-width="1.0"/>
<line x1="743" y1="257.5" x2="802" y2="257.5" stroke="#000088" stroke-width="1.0"/>
<polyline points="743.5,271.5 787.5,271.5 787.5,257.5" fill="none" stroke="#000088" stroke-width="1.0" stroke-linejoin="miter"/>
<circle cx="787.3" cy="257.5" r="2.3" fill="#800000"/>
<circle cx="811.5" cy="257.5" r="3.7" fill="none" stroke="#800000" stroke-width="1.0"/>
<line x1="807.8" y1="257.5" x2="802" y2="257.5" stroke="#800000" stroke-width="1.0"/>
<text transform="translate(819,260.4) scale(0.92,1.0)" font-family='"Liberation Serif", serif' font-size="13.4" fill="#800000" text-anchor="start" letter-spacing="1.2">VCC18</text>
<line x1="743" y1="286.5" x2="802" y2="286.5" stroke="#000088" stroke-width="1.0"/>
<circle cx="811.5" cy="286.5" r="3.7" fill="none" stroke="#800000" stroke-width="1.0"/>
<line x1="807.8" y1="286.5" x2="802" y2="286.5" stroke="#800000" stroke-width="1.0"/>
<text transform="translate(819,289.4) scale(0.92,1.0)" font-family='"Liberation Serif", serif' font-size="13.4" fill="#800000" text-anchor="start" letter-spacing="1.2">VCC33</text>
<polyline points="743.5,301.5 816.5,301.5 816.5,315.5" fill="none" stroke="#000088" stroke-width="1.0" stroke-linejoin="miter"/>
<line x1="816.5" y1="315.8" x2="816.5" y2="330.8" stroke="#800000" stroke-width="1.0"/>
<line x1="801" y1="330.5" x2="831" y2="330.5" stroke="#800000" stroke-width="1.0"/>
<line x1="805.5" y1="335.5" x2="826.5" y2="335.5" stroke="#800000" stroke-width="1.0"/>
<line x1="810" y1="339.5" x2="822" y2="339.5" stroke="#800000" stroke-width="1.0"/>
<line x1="814.5" y1="344.5" x2="817.5" y2="344.5" stroke="#800000" stroke-width="1.0"/>
<line x1="743" y1="315.5" x2="788" y2="315.5" stroke="#000088" stroke-width="1.0"/>
<text transform="translate(743,313.1) scale(0.97,1.0)" font-family='"Liberation Sans", sans-serif' font-size="8.3" fill="#800000" text-anchor="start" stroke="#800000" stroke-width="0.2">CONFIG</text>
<line x1="743" y1="330.5" x2="788" y2="330.5" stroke="#000088" stroke-width="1.0"/>
<text transform="translate(743,328.1) scale(0.97,1.0)" font-family='"Liberation Sans", sans-serif' font-size="8.3" fill="#800000" text-anchor="start" stroke="#800000" stroke-width="0.2">SPEED</text>
<line x1="743" y1="344.5" x2="904.5" y2="344.5" stroke="#000088" stroke-width="1.0"/>
<text transform="translate(743,342.1) scale(0.97,1.0)" font-family='"Liberation Sans", sans-serif' font-size="8.3" fill="#800000" text-anchor="start" stroke="#800000" stroke-width="0.2">PULL_DOWN5</text>
<line x1="904.5" y1="344.5" x2="919.5" y2="344.5" stroke="#000000" stroke-width="1.0"/>
<polyline points="919.5,344.5 923.76,340.04 932.58,348.96 941.4,340.04 950.22,348.96 959.04,340.04 963.3,344.5" fill="none" stroke="#0000ff" stroke-width="1.15" stroke-linejoin="miter"/>
<line x1="963.3" y1="344.5" x2="977.7" y2="344.5" stroke="#000000" stroke-width="1.0"/>
<line x1="977.7" y1="344.5" x2="992.5" y2="344.5" stroke="#000088" stroke-width="1.0"/>
<line x1="992.5" y1="344.5" x2="1007.8" y2="344.5" stroke="#800000" stroke-width="1.0"/>
<line x1="1007.5" y1="329.5" x2="1007.5" y2="359.5" stroke="#800000" stroke-width="1.0"/>
<line x1="1012.5" y1="334" x2="1012.5" y2="355" stroke="#800000" stroke-width="1.0"/>
<line x1="1016.5" y1="338.5" x2="1016.5" y2="350.5" stroke="#800000" stroke-width="1.0"/>
<line x1="1021.5" y1="343" x2="1021.5" y2="346" stroke="#800000" stroke-width="1.0"/>
<text transform="translate(904.4,337.8) scale(0.9,1.0)" font-family='"Liberation Sans", sans-serif' font-size="8.2" fill="#3a3aa8" text-anchor="start" stroke="#3a3aa8" stroke-width="0.25">RSL1</text>
<text transform="translate(963.3,337.8) scale(0.9,1.0)" font-family='"Liberation Sans", sans-serif' font-size="8.2" fill="#3a3aa8" text-anchor="start" stroke="#3a3aa8" stroke-width="0.25">10K</text>
<polyline points="743.5,359.5 860.5,359.5 860.5,403.5 905.5,403.5" fill="none" stroke="#000088" stroke-width="1.0" stroke-linejoin="miter"/>
<text transform="translate(743,357.1) scale(0.97,1.0)" font-family='"Liberation Sans", sans-serif' font-size="8.3" fill="#800000" text-anchor="start" stroke="#800000" stroke-width="0.2">PULL_DOWN4</text>
<line x1="743" y1="374.5" x2="802" y2="374.5" stroke="#000088" stroke-width="1.0"/>
<circle cx="811.3" cy="374.5" r="3.7" fill="none" stroke="#800000" stroke-width="1.0"/>
<line x1="807.6" y1="374.5" x2="801.8" y2="374.5" stroke="#800000" stroke-width="1.0"/>
<text transform="translate(818.8,377.4) scale(0.92,1.0)" font-family='"Liberation Serif", serif' font-size="13.4" fill="#800000" text-anchor="start" letter-spacing="1.2">VCC33</text>
<polyline points="743.5,388.5 831.5,388.5 831.5,418.5 905.5,418.5" fill="none" stroke="#000088" stroke-width="1.0" stroke-linejoin="miter"/>
<text transform="translate(831.5,416) scale(0.97,1.0)" font-family='"Liberation Sans", sans-serif' font-size="8.3" fill="#800000" text-anchor="start" stroke="#800000" stroke-width="0.2">PULL_DOWN3</text>
<polyline points="743.5,403.5 816.5,403.5 816.5,432.5 905.5,432.5" fill="none" stroke="#000088" stroke-width="1.0" stroke-linejoin="miter"/>
<text transform="translate(816.6,430.2) scale(0.97,1.0)" font-family='"Liberation Sans", sans-serif' font-size="8.3" fill="#800000" text-anchor="start" stroke="#800000" stroke-width="0.2">PULL_DOWN2</text>
<line x1="743" y1="418.5" x2="787.6" y2="418.5" stroke="#000088" stroke-width="1.0"/>
<text transform="translate(743,416.1) scale(0.97,1.0)" font-family='"Liberation Sans", sans-serif' font-size="8.3" fill="#800000" text-anchor="start" stroke="#800000" stroke-width="0.2">SPEED</text>
<line x1="743" y1="432.5" x2="787.6" y2="432.5" stroke="#000088" stroke-width="1.0"/>
<text transform="translate(743,430.1) scale(0.97,1.0)" font-family='"Liberation Sans", sans-serif' font-size="8.3" fill="#800000" text-anchor="start" stroke="#800000" stroke-width="0.2">PULL_UP2</text>
<line x1="743" y1="447.5" x2="905.2" y2="447.5" stroke="#000088" stroke-width="1.0"/>
<text transform="translate(816.6,445.2) scale(0.97,1.0)" font-family='"Liberation Sans", sans-serif' font-size="8.3" fill="#800000" text-anchor="start" stroke="#800000" stroke-width="0.2">PULL_DOWN1</text>
<line x1="743" y1="461.5" x2="802" y2="461.5" stroke="#000088" stroke-width="1.0"/>
<circle cx="811.3" cy="461.5" r="3.7" fill="none" stroke="#800000" stroke-width="1.0"/>
<line x1="807.6" y1="461.5" x2="801.8" y2="461.5" stroke="#800000" stroke-width="1.0"/>
<text transform="translate(818.8,464.4) scale(0.92,1.0)" font-family='"Liberation Serif", serif' font-size="13.4" fill="#800000" text-anchor="start" letter-spacing="1.2">VCC18</text>
<rect x="919.4" y="388.1" width="42.2" height="72.3" fill="none" stroke="#0000ff" stroke-width="1.3"/>
<line x1="905.2" y1="403.5" x2="919.4" y2="403.5" stroke="#000000" stroke-width="1.0"/>
<polyline points="919.4,403.5 923.5,399.46 932,407.54 940.5,399.46 949,407.54 957.5,399.46 961.6,403.5" fill="none" stroke="#0000ff" stroke-width="1.15" stroke-linejoin="miter"/>
<line x1="961.6" y1="403.5" x2="977.5" y2="403.5" stroke="#000000" stroke-width="1.0"/>
<line x1="977.5" y1="403.5" x2="992.4" y2="403.5" stroke="#000088" stroke-width="1.0"/>
<line x1="905.2" y1="418.5" x2="919.4" y2="418.5" stroke="#000000" stroke-width="1.0"/>
<polyline points="919.4,418.5 923.5,414.46 932,422.54 940.5,414.46 949,422.54 957.5,414.46 961.6,418.5" fill="none" stroke="#0000ff" stroke-width="1.15" stroke-linejoin="miter"/>
<line x1="961.6" y1="418.5" x2="977.5" y2="418.5" stroke="#000000" stroke-width="1.0"/>
<line x1="977.5" y1="418.5" x2="992.4" y2="418.5" stroke="#000088" stroke-width="1.0"/>
<line x1="905.2" y1="432.5" x2="919.4" y2="432.5" stroke="#000000" stroke-width="1.0"/>
<polyline points="919.4,432.5 923.5,428.46 932,436.54 940.5,428.46 949,436.54 957.5,428.46 961.6,432.5" fill="none" stroke="#0000ff" stroke-width="1.15" stroke-linejoin="miter"/>
<line x1="961.6" y1="432.5" x2="977.5" y2="432.5" stroke="#000000" stroke-width="1.0"/>
<line x1="977.5" y1="432.5" x2="992.4" y2="432.5" stroke="#000088" stroke-width="1.0"/>
<line x1="905.2" y1="447.5" x2="919.4" y2="447.5" stroke="#000000" stroke-width="1.0"/>
<polyline points="919.4,447.5 923.5,443.46 932,451.54 940.5,443.46 949,451.54 957.5,443.46 961.6,447.5" fill="none" stroke="#0000ff" stroke-width="1.15" stroke-linejoin="miter"/>
<line x1="961.6" y1="447.5" x2="977.5" y2="447.5" stroke="#000000" stroke-width="1.0"/>
<line x1="977.5" y1="447.5" x2="992.4" y2="447.5" stroke="#000088" stroke-width="1.0"/>
<line x1="992.5" y1="403.5" x2="992.5" y2="461" stroke="#000088" stroke-width="1.0"/>
<circle cx="992.4" cy="418.5" r="2.3" fill="#800000"/>
<circle cx="992.4" cy="432.5" r="2.3" fill="#800000"/>
<circle cx="992.4" cy="447.5" r="2.3" fill="#800000"/>
<line x1="992.5" y1="461" x2="992.5" y2="476.3" stroke="#800000" stroke-width="1.0"/>
<line x1="977.4" y1="476.5" x2="1007.4" y2="476.5" stroke="#800000" stroke-width="1.0"/>
<line x1="981.9" y1="480.5" x2="1002.9" y2="480.5" stroke="#800000" stroke-width="1.0"/>
<line x1="986.4" y1="485.5" x2="998.4" y2="485.5" stroke="#800000" stroke-width="1.0"/>
<line x1="990.9" y1="489.5" x2="993.9" y2="489.5" stroke="#800000" stroke-width="1.0"/>
<text transform="translate(919.4,470.3) scale(0.9,1.0)" font-family='"Liberation Sans", sans-serif' font-size="8.2" fill="#3a3aa8" text-anchor="start" stroke="#3a3aa8" stroke-width="0.25">RP</text>
<text transform="translate(948.6,470.3) scale(0.9,1.0)" font-family='"Liberation Sans", sans-serif' font-size="8.2" fill="#3a3aa8" text-anchor="start" stroke="#3a3aa8" stroke-width="0.25">10K</text>
<line x1="846" y1="301.5" x2="904.5" y2="301.5" stroke="#000088" stroke-width="1.0"/>
<text transform="translate(846,299) scale(0.97,1.0)" font-family='"Liberation Sans", sans-serif' font-size="8.3" fill="#800000" text-anchor="start" stroke="#800000" stroke-width="0.2">CONFIG</text>
<line x1="904.5" y1="301.5" x2="919" y2="301.5" stroke="#000000" stroke-width="1.0"/>
<polyline points="919,301.5 923.26,297.04 932.08,305.96 940.9,297.04 949.72,305.96 958.54,297.04 962.8,301.5" fill="none" stroke="#0000ff" stroke-width="1.15" stroke-linejoin="miter"/>
<line x1="962.8" y1="301.5" x2="976.8" y2="301.5" stroke="#000000" stroke-width="1.0"/>
<text transform="translate(904.4,294.1) scale(0.9,1.0)" font-family='"Liberation Sans", sans-serif' font-size="8.2" fill="#3a3aa8" text-anchor="start" stroke="#3a3aa8" stroke-width="0.25">R3</text>
<text transform="translate(963.3,294.1) scale(0.9,1.0)" font-family='"Liberation Sans", sans-serif' font-size="8.2" fill="#3a3aa8" text-anchor="start" stroke="#3a3aa8" stroke-width="0.25">10K</text>
<line x1="846" y1="315.5" x2="904.5" y2="315.5" stroke="#000088" stroke-width="1.0"/>
<text transform="translate(846,313) scale(0.97,1.0)" font-family='"Liberation Sans", sans-serif' font-size="8.3" fill="#800000" text-anchor="start" stroke="#800000" stroke-width="0.2">PULL_UP1</text>
<line x1="904.5" y1="315.5" x2="919" y2="315.5" stroke="#000000" stroke-width="1.0"/>
<polyline points="919,315.5 923.26,311.04 932.08,319.96 940.9,311.04 949.72,319.96 958.54,311.04 962.8,315.5" fill="none" stroke="#0000ff" stroke-width="1.15" stroke-linejoin="miter"/>
<line x1="962.8" y1="315.5" x2="976.8" y2="315.5" stroke="#000000" stroke-width="1.0"/>
<text transform="translate(918.9,308.1) scale(0.9,1.0)" font-family='"Liberation Sans", sans-serif' font-size="8.2" fill="#3a3aa8" text-anchor="start" stroke="#3a3aa8" stroke-width="0.25">R4</text>
<text transform="translate(947.8,308.1) scale(0.9,1.0)" font-family='"Liberation Sans", sans-serif' font-size="8.2" fill="#3a3aa8" text-anchor="start" stroke="#3a3aa8" stroke-width="0.25">4.7K</text>
<line x1="846" y1="330.5" x2="904.5" y2="330.5" stroke="#000088" stroke-width="1.0"/>
<text transform="translate(846,328) scale(0.97,1.0)" font-family='"Liberation Sans", sans-serif' font-size="8.3" fill="#800000" text-anchor="start" stroke="#800000" stroke-width="0.2">PULL_UP2</text>
<line x1="904.5" y1="330.5" x2="919" y2="330.5" stroke="#000000" stroke-width="1.0"/>
<polyline points="919,330.5 923.26,326.04 932.08,334.96 940.9,326.04 949.72,334.96 958.54,326.04 962.8,330.5" fill="none" stroke="#0000ff" stroke-width="1.15" stroke-linejoin="miter"/>
<line x1="962.8" y1="330.5" x2="976.8" y2="330.5" stroke="#000000" stroke-width="1.0"/>
<text transform="translate(918.9,323.1) scale(0.9,1.0)" font-family='"Liberation Sans", sans-serif' font-size="8.2" fill="#3a3aa8" text-anchor="start" stroke="#3a3aa8" stroke-width="0.25">R5</text>
<text transform="translate(947.8,323.1) scale(0.9,1.0)" font-family='"Liberation Sans", sans-serif' font-size="8.2" fill="#3a3aa8" text-anchor="start" stroke="#3a3aa8" stroke-width="0.25">4.7K</text>
<line x1="976.5" y1="301.5" x2="976.5" y2="330.5" stroke="#000088" stroke-width="1.0"/>
<circle cx="976.7" cy="301.5" r="2.3" fill="#800000"/>
<circle cx="976.7" cy="315.5" r="2.3" fill="#800000"/>
<line x1="976.7" y1="301.5" x2="993.3" y2="301.5" stroke="#000088" stroke-width="1.0"/>
<circle cx="1001.8" cy="301.5" r="3.7" fill="none" stroke="#800000" stroke-width="1.0"/>
<line x1="993.3" y1="301.5" x2="998.1" y2="301.5" stroke="#800000" stroke-width="1.0"/>
<text transform="translate(1011,305.2) scale(0.92,1.0)" font-family='"Liberation Serif", serif' font-size="13.4" fill="#800000" text-anchor="start" letter-spacing="1.2">VCC33</text>
<line x1="846" y1="491.5" x2="905" y2="491.5" stroke="#000088" stroke-width="1.0"/>
<text transform="translate(846.3,489) scale(0.97,1.0)" font-family='"Liberation Sans", sans-serif' font-size="8.3" fill="#800000" text-anchor="start" stroke="#800000" stroke-width="0.2">SPEED</text>
<line x1="905" y1="491.5" x2="919" y2="491.5" stroke="#000000" stroke-width="1.0"/>
<polyline points="919,491.5 923.26,487.04 932.08,495.96 940.9,487.04 949.72,495.96 958.54,487.04 962.8,491.5" fill="none" stroke="#0000ff" stroke-width="1.15" stroke-linejoin="miter"/>
<line x1="962.8" y1="491.5" x2="977.3" y2="491.5" stroke="#000000" stroke-width="1.0"/>
<line x1="977.8" y1="491.5" x2="983.4" y2="491.5" stroke="#800000" stroke-width="1.0"/>
<circle cx="987.1" cy="491.5" r="3.7" fill="none" stroke="#800000" stroke-width="1.0"/>
<text transform="translate(994.4,495) scale(0.92,1.0)" font-family='"Liberation Serif", serif' font-size="13.4" fill="#800000" text-anchor="start" letter-spacing="1.2">VCC33</text>
<text transform="translate(904,483.8) scale(0.9,1.0)" font-family='"Liberation Sans", sans-serif' font-size="8.2" fill="#3a3aa8" text-anchor="start" stroke="#3a3aa8" stroke-width="0.25">RSH1</text>
<text transform="translate(963.3,483.8) scale(0.9,1.0)" font-family='"Liberation Sans", sans-serif' font-size="8.2" fill="#3a3aa8" text-anchor="start" stroke="#3a3aa8" stroke-width="0.25">10K</text>
<line x1="846.5" y1="491.5" x2="846.5" y2="520.5" stroke="#000088" stroke-width="1.0"/>
<line x1="846" y1="520.5" x2="905" y2="520.5" stroke="#000088" stroke-width="1.0"/>
<line x1="905" y1="520.5" x2="919.5" y2="520.5" stroke="#000000" stroke-width="1.0"/>
<polyline points="919.5,520.5 923.76,516.04 932.58,524.96 941.4,516.04 950.22,524.96 959.04,516.04 963.3,520.5" fill="none" stroke="#0000ff" stroke-width="1.15" stroke-linejoin="miter"/>
<line x1="963.3" y1="520.5" x2="977.8" y2="520.5" stroke="#000000" stroke-width="1.0"/>
<line x1="977.8" y1="520.5" x2="992.5" y2="520.5" stroke="#000088" stroke-width="1.0"/>
<line x1="992.5" y1="520.5" x2="1007.8" y2="520.5" stroke="#800000" stroke-width="1.0"/>
<line x1="1007.5" y1="505.5" x2="1007.5" y2="535.5" stroke="#800000" stroke-width="1.0"/>
<line x1="1012.5" y1="510" x2="1012.5" y2="531" stroke="#800000" stroke-width="1.0"/>
<line x1="1016.5" y1="514.5" x2="1016.5" y2="526.5" stroke="#800000" stroke-width="1.0"/>
<line x1="1021.5" y1="519" x2="1021.5" y2="522" stroke="#800000" stroke-width="1.0"/>
<text transform="translate(904,513.8) scale(0.9,1.0)" font-family='"Liberation Sans", sans-serif' font-size="8.2" fill="#3a3aa8" text-anchor="start" stroke="#3a3aa8" stroke-width="0.25">RSL2</text>
<text transform="translate(963.3,513.8) scale(0.9,1.0)" font-family='"Liberation Sans", sans-serif' font-size="8.2" fill="#3a3aa8" text-anchor="start" stroke="#3a3aa8" stroke-width="0.25">10K</text>
<text transform="translate(743.1,545)" font-family='"Liberation Mono", monospace' font-size="9.6" fill="#000088" text-anchor="start" letter-spacing="2.05" font-weight="bold">Select: RSL2 to use low speed</text>
<text transform="translate(743.1,559.5)" font-family='"Liberation Mono", monospace' font-size="9.6" fill="#000088" text-anchor="start" letter-spacing="2.05" font-weight="bold">Select: RSH1 to use high speed</text>
<line x1="231.5" y1="227.5" x2="290" y2="227.5" stroke="#000088" stroke-width="1.0"/>
<text transform="translate(231.4,225.1) scale(0.97,1.0)" font-family='"Liberation Sans", sans-serif' font-size="8.3" fill="#800000" text-anchor="start" stroke="#800000" stroke-width="0.2">RTS</text>
<line x1="231.5" y1="257.5" x2="290" y2="257.5" stroke="#000088" stroke-width="1.0"/>
<text transform="translate(231.4,255.1) scale(0.97,1.0)" font-family='"Liberation Sans", sans-serif' font-size="8.3" fill="#800000" text-anchor="start" stroke="#800000" stroke-width="0.2">PULL_UP1</text>
<line x1="231.5" y1="271.5" x2="290" y2="271.5" stroke="#000088" stroke-width="1.0"/>
<text transform="translate(231.4,269.1) scale(0.97,1.0)" font-family='"Liberation Sans", sans-serif' font-size="8.3" fill="#800000" text-anchor="start" stroke="#800000" stroke-width="0.2">RXD</text>
<line x1="231.5" y1="301.5" x2="290" y2="301.5" stroke="#000088" stroke-width="1.0"/>
<text transform="translate(231.4,299.1) scale(0.97,1.0)" font-family='"Liberation Sans", sans-serif' font-size="8.3" fill="#800000" text-anchor="start" stroke="#800000" stroke-width="0.2">TXD</text>
<line x1="231.5" y1="388.5" x2="290" y2="388.5" stroke="#000088" stroke-width="1.0"/>
<text transform="translate(231.4,386.1) scale(0.97,1.0)" font-family='"Liberation Sans", sans-serif' font-size="8.3" fill="#800000" text-anchor="start" stroke="#800000" stroke-width="0.2">CTS</text>
<line x1="231.5" y1="418.5" x2="290" y2="418.5" stroke="#000088" stroke-width="1.0"/>
<text transform="translate(231.4,416.1) scale(0.97,1.0)" font-family='"Liberation Sans", sans-serif' font-size="8.3" fill="#800000" text-anchor="start" stroke="#800000" stroke-width="0.2">VCC18</text>
<line x1="231.5" y1="432.5" x2="290" y2="432.5" stroke="#000088" stroke-width="1.0"/>
<text transform="translate(231.4,430.1) scale(0.97,1.0)" font-family='"Liberation Sans", sans-serif' font-size="8.3" fill="#800000" text-anchor="start" stroke="#800000" stroke-width="0.2">VCC33</text>
<line x1="217.7" y1="242.5" x2="290" y2="242.5" stroke="#000088" stroke-width="1.0"/>
<line x1="202.4" y1="242.5" x2="217.7" y2="242.5" stroke="#800000" stroke-width="1.0"/>
<line x1="202.5" y1="227.5" x2="202.5" y2="257.5" stroke="#800000" stroke-width="1.0"/>
<line x1="198.5" y1="232" x2="198.5" y2="253" stroke="#800000" stroke-width="1.0"/>
<line x1="193.5" y1="236.5" x2="193.5" y2="248.5" stroke="#800000" stroke-width="1.0"/>
<line x1="189.5" y1="241" x2="189.5" y2="244" stroke="#800000" stroke-width="1.0"/>
<line x1="231.9" y1="286.5" x2="290" y2="286.5" stroke="#000088" stroke-width="1.0"/>
<line x1="224.2" y1="286.5" x2="231.9" y2="286.5" stroke="#800000" stroke-width="1.0"/>
<circle cx="220.5" cy="286.5" r="3.7" fill="none" stroke="#800000" stroke-width="1.0"/>
<text transform="translate(211,290.4) scale(0.92,1.0)" font-family='"Liberation Serif", serif' font-size="13.4" fill="#800000" text-anchor="end" letter-spacing="1.2">VCC18</text>
<polyline points="290.5,403.5 158.5,403.5 158.5,404.5" fill="none" stroke="#000088" stroke-width="1.0" stroke-linejoin="miter"/>
<polyline points="290.5,461.5 231.5,461.5 231.5,476.5" fill="none" stroke="#000088" stroke-width="1.0" stroke-linejoin="miter"/>
<line x1="231.5" y1="476.3" x2="231.5" y2="491.2" stroke="#800000" stroke-width="1.0"/>
<line x1="216.5" y1="491.5" x2="246.5" y2="491.5" stroke="#800000" stroke-width="1.0"/>
<line x1="221" y1="495.5" x2="242" y2="495.5" stroke="#800000" stroke-width="1.0"/>
<line x1="225.5" y1="500.5" x2="237.5" y2="500.5" stroke="#800000" stroke-width="1.0"/>
<line x1="230" y1="504.5" x2="233" y2="504.5" stroke="#800000" stroke-width="1.0"/>
<rect x="114.5" y="271.5" width="57" height="86.8" fill="none" stroke="#0000ff" stroke-width="1.4"/>
<line x1="129.5" y1="227.8" x2="129.5" y2="271.5" stroke="#000000" stroke-width="1.0"/>
<line x1="129.5" y1="220.6" x2="129.5" y2="227.8" stroke="#800000" stroke-width="1.0"/>
<circle cx="129.5" cy="216.9" r="3.7" fill="none" stroke="#800000" stroke-width="1.0"/>
<text transform="translate(128,210) scale(0.92,1.0)" font-family='"Liberation Serif", serif' font-size="13.4" fill="#800000" text-anchor="middle" letter-spacing="1.2">VCC33</text>
<line x1="158.5" y1="228.2" x2="158.5" y2="271.5" stroke="#000000" stroke-width="1.0"/>
<text transform="translate(155.5,227.3) rotate(-90) scale(1.0,1.15)" font-family='"Liberation Sans", sans-serif' font-size="8.4" fill="#800000" text-anchor="start" stroke="#800000" stroke-width="0.14">nRST</text>
<text transform="translate(124.5,246) rotate(-90) scale(0.9,1.0)" font-family='"Liberation Serif", serif' font-size="12.6" fill="#000000" text-anchor="middle">4</text>
<text transform="translate(154.5,246) rotate(-90) scale(0.9,1.0)" font-family='"Liberation Serif", serif' font-size="12.6" fill="#000000" text-anchor="middle">3</text>
<text transform="translate(62.7,265.2) scale(0.9,1.0)" font-family='"Liberation Sans", sans-serif' font-size="8.2" fill="#3a3aa8" text-anchor="start" stroke="#3a3aa8" stroke-width="0.25">u811reus</text>
<line x1="129.5" y1="358.3" x2="129.5" y2="404" stroke="#000000" stroke-width="1.0"/>
<line x1="129.5" y1="404" x2="129.5" y2="476.3" stroke="#000088" stroke-width="1.0"/>
<line x1="129.5" y1="476.3" x2="129.5" y2="491.2" stroke="#800000" stroke-width="1.0"/>
<line x1="114.5" y1="491.5" x2="144.5" y2="491.5" stroke="#800000" stroke-width="1.0"/>
<line x1="119" y1="495.5" x2="140" y2="495.5" stroke="#800000" stroke-width="1.0"/>
<line x1="123.5" y1="500.5" x2="135.5" y2="500.5" stroke="#800000" stroke-width="1.0"/>
<line x1="128" y1="504.5" x2="131" y2="504.5" stroke="#800000" stroke-width="1.0"/>
<line x1="158.5" y1="358.3" x2="158.5" y2="404" stroke="#000000" stroke-width="1.0"/>
<text transform="translate(125,384.5) rotate(-90) scale(0.9,1.0)" font-family='"Liberation Serif", serif' font-size="12.6" fill="#000000" text-anchor="middle">1</text>
<text transform="translate(154.3,384.5) rotate(-90) scale(0.9,1.0)" font-family='"Liberation Serif", serif' font-size="12.6" fill="#000000" text-anchor="middle">2</text>
<text transform="translate(97.4,353.2) scale(0.9,1.0)" font-family='"Liberation Sans", sans-serif' font-size="8.2" fill="#3a3aa8" text-anchor="start" stroke="#3a3aa8" stroke-width="0.25">U1</text>
<text transform="translate(132.9,309.5) rotate(-90) scale(0.96,1.0)" font-family='"Liberation Serif", serif' font-size="14.2" fill="#000000" text-anchor="start">VCC</text>
<text transform="translate(132.9,349.8) rotate(-90) scale(0.96,1.0)" font-family='"Liberation Serif", serif' font-size="14.2" fill="#000000" text-anchor="start">GND</text>
<text transform="translate(162,301.5) rotate(-90) scale(0.96,1.0)" font-family='"Liberation Serif", serif' font-size="14.2" fill="#000000" text-anchor="start">MR</text>
<line x1="151.5" y1="280.2" x2="151.5" y2="301.4" stroke="#000000" stroke-width="1.0"/>
<text transform="translate(162,349.8) rotate(-90) scale(0.96,1.0)" font-family='"Liberation Serif", serif' font-size="14.2" fill="#000000" text-anchor="start">RESET</text>
<line x1="421.5" y1="578.5" x2="421.5" y2="623.4" stroke="#000088" stroke-width="1.0"/>
<line x1="421.5" y1="623.4" x2="421.5" y2="628.4" stroke="#800000" stroke-width="1.0"/>
<circle cx="421.5" cy="632.1" r="3.7" fill="none" stroke="#800000" stroke-width="1.0"/>
<text transform="translate(420.1,649.4) scale(0.92,1.0)" font-family='"Liberation Serif", serif' font-size="13.4" fill="#800000" text-anchor="middle" letter-spacing="1.2">VCC18</text>
<line x1="553.5" y1="578.5" x2="553.5" y2="621.8" stroke="#000088" stroke-width="1.0"/>
<line x1="553.5" y1="621.8" x2="553.5" y2="628.4" stroke="#800000" stroke-width="1.0"/>
<circle cx="553.5" cy="632.1" r="3.7" fill="none" stroke="#800000" stroke-width="1.0"/>
<text transform="translate(551.7,649.4) scale(0.92,1.0)" font-family='"Liberation Serif", serif' font-size="13.4" fill="#800000" text-anchor="middle" letter-spacing="1.2">VCC33</text>
<line x1="568.5" y1="578.5" x2="568.5" y2="622.5" stroke="#000088" stroke-width="1.0"/>
<line x1="582.5" y1="578.5" x2="582.5" y2="622.5" stroke="#000088" stroke-width="1.0"/>
<line x1="597.5" y1="578.5" x2="597.5" y2="622.5" stroke="#000088" stroke-width="1.0"/>
<text transform="translate(565.7,621.8) rotate(-90) scale(1.0,1.15)" font-family='"Liberation Sans", sans-serif' font-size="8.4" fill="#800000" text-anchor="start" stroke="#800000" stroke-width="0.14">RUN_LED</text>
<text transform="translate(580.2,621.8) rotate(-90) scale(1.0,1.15)" font-family='"Liberation Sans", sans-serif' font-size="8.4" fill="#800000" text-anchor="start" stroke="#800000" stroke-width="0.14">VCC18</text>
<text transform="translate(594.6,621.8) rotate(-90) scale(1.0,1.15)" font-family='"Liberation Sans", sans-serif' font-size="8.4" fill="#800000" text-anchor="start" stroke="#800000" stroke-width="0.14">CTS</text>
<line x1="612.5" y1="578.5" x2="612.5" y2="607.3" stroke="#000088" stroke-width="1.0"/>
<line x1="612.5" y1="607.3" x2="612.5" y2="622.5" stroke="#800000" stroke-width="1.0"/>
<line x1="597.5" y1="622.5" x2="627.5" y2="622.5" stroke="#800000" stroke-width="1.0"/>
<line x1="602" y1="626.5" x2="623" y2="626.5" stroke="#800000" stroke-width="1.0"/>
<line x1="606.5" y1="631.5" x2="618.5" y2="631.5" stroke="#800000" stroke-width="1.0"/>
<line x1="611" y1="635.5" x2="614" y2="635.5" stroke="#800000" stroke-width="1.0"/>
</svg>
</body></html>
